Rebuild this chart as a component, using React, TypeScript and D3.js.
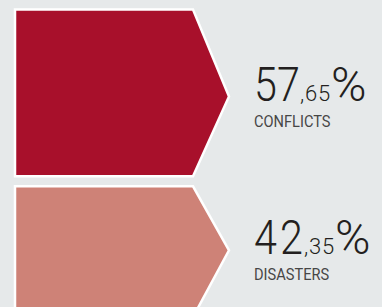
import React from 'react';
import * as d3 from 'd3';

// values
const categories = ['CONFLICTS', 'DISASTERS'];
const values = [57.65, 42.35];
const colors = ['#a8102b', '#ce8277'];

const App = () => {
  const width = 382;
  const height = 307;
  const left = 15;
  const rectRight = 193;
  const tipLen = 36;
  const top = 9.5;
  const gap = 10;
  const sx = 0.86; // horizontal squeeze for the condensed look

  // shape height per value, and where the arrow tip sits below the top
  const hScale = d3.scaleLinear().domain([0, 100]).range([31, 266.6]);
  const tipScale = d3.scaleLinear().domain([0, 100]).range([0, 151]);

  const heights = values.map(v => hScale(v));
  const tops = heights.map((h, i) => top + d3.sum(heights.slice(0, i)) + gap * i);

  const line = d3.line();
  const fmt = d3.format('.2f');

  const textX = 254;
  const font = "Roboto, 'DejaVu Sans', sans-serif";

  return (
    <svg
      width={width}
      height={height}
      style={{ position: 'absolute', left: 0, top: 0, background: '#e6e9ea' }}
    >
      <rect x={0} y={0} width={width} height={height} fill="#e6e9ea" />
      {values.map((v, i) => {
        const y0 = tops[i];
        const y1 = y0 + heights[i];
        const tipY = y0 + tipScale(v);
        const pts: [number, number][] = [
          [left, y0],
          [rectRight, y0],
          [rectRight + tipLen, tipY],
          [rectRight, y1],
          [left, y1],
        ];
        const [intPart, decPart] = fmt(v).split('.');
        const intW = i === 0 ? 45 : 49;
        const decX = textX + intW + 1;
        const pctX = decX + 31;
        const baseY = tipY + 4;
        return (
          <g key={categories[i]}>
            <path d={line(pts) + 'Z'} fill={colors[i]} stroke="#fff" strokeWidth={2.5} strokeLinejoin="miter" />
            <text
              transform={`translate(${textX},${baseY}) scale(${sx},1)`}
              fontFamily={font}
              fontWeight={300}
              fontSize={48}
              letterSpacing={i === 0 ? 0 : 3.5}
              fill="#231f20"
            >
              {intPart}
            </text>
            <text x={decX} y={baseY} fontFamily={font} fontWeight={300} fontSize={22} letterSpacing={0.8} fill="#231f20">
              {',' + decPart}
            </text>
            <text x={pctX} y={baseY} fontFamily={font} fontWeight={300} fontSize={48} fill="#231f20">
              %
            </text>
            <text
              transform={`translate(${textX},${tipY + 30}) scale(0.86,1)`}
              fontFamily={font}
              fontSize={17}
              fontWeight={400}
              fill="#464646"
            >
              {categories[i]}
            </text>
          </g>
        );
      })}
    </svg>
  );
};

export default App;
